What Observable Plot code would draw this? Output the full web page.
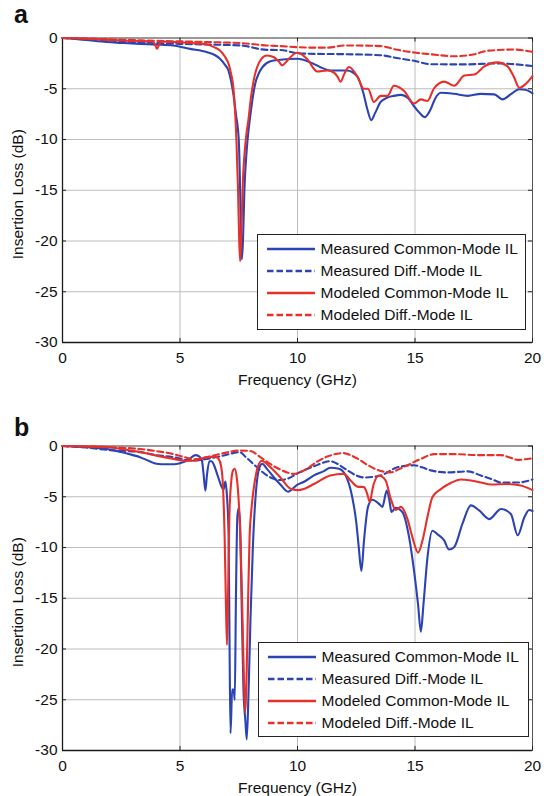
<!DOCTYPE html>
<html>
<head>
<meta charset="utf-8">
<script src="https://cdn.jsdelivr.net/npm/d3@7"></script>
<script src="https://cdn.jsdelivr.net/npm/@observablehq/plot@0.6"></script>
<style>
  html, body { margin: 0; padding: 0; background: #fff; }
  #chart { position: relative; width: 544px; height: 796px; font-family: "Liberation Sans", Arial, sans-serif; color: #111; }
  .panel { position: absolute; left: 0; }
  .tag { position: absolute; left: 14px; font-weight: bold; font-size: 25px; line-height: 25px; }
  .legend { position: absolute; border: 1.5px solid #222; background: #fff; box-sizing: border-box; }
  .row { position: absolute; left: 0; height: 22px; display: flex; align-items: center; font-size: 15.5px; white-space: nowrap; }
  .row svg { margin-left: 8.5px; margin-right: 6px; }
</style>
</head>
<body>
<div id="chart"></div>
<script>
// Axis ticks
const xTicks = [0, 5, 10, 15, 20];
const yTicks = [0, -5, -10, -15, -20, -25, -30];
const seriesNames = ["Measured Common-Mode IL", "Measured Diff.-Mode IL", "Modeled Common-Mode IL", "Modeled Diff.-Mode IL"];

// Panel a: [frequency GHz, insertion loss dB]
const aMeasCM = [[0,0],[0.45,-0.08],[1,-0.2],[1.88,-0.4],[2.5,-0.48],[3.3,-0.58],[4.0,-0.65],[4.7,-0.74],[5.44,-1.07],[6.15,-1.4],[6.5,-1.7],[6.7,-2.05],[6.9,-2.6],[7.06,-3.2],[7.17,-4.2],[7.27,-5.5],[7.38,-7.5],[7.5,-10],[7.56,-15],[7.6,-20],[7.63,-21.8],[7.68,-20],[7.74,-15],[7.84,-11],[7.92,-9],[8.0,-7.5],[8.1,-5.8],[8.2,-4.5],[8.35,-3.5],[8.5,-2.9],[8.85,-2.3],[9.27,-2.15],[9.99,-2.05],[10.55,-2.4],[11.0,-2.9],[11.4,-3.2],[12.1,-3.2],[12.55,-3.8],[12.8,-5.4],[12.97,-7.0],[13.14,-8.1],[13.3,-7.4],[13.54,-6.3],[13.8,-5.9],[14.1,-5.7],[14.4,-5.6],[14.7,-5.9],[14.95,-6.7],[15.2,-7.4],[15.42,-7.8],[15.67,-7.0],[15.85,-6.0],[16.1,-5.4],[16.66,-5.5],[17.24,-5.7],[17.8,-5.5],[18.37,-5.55],[18.73,-6.05],[19.1,-5.5],[19.43,-5.05],[19.7,-5.1],[20,-5.45]];
const aMeasDM = [[0,0],[1,-0.1],[2,-0.25],[3,-0.38],[4,-0.5],[5,-0.58],[6.15,-0.64],[7.6,-0.74],[8.7,-1.17],[9.27,-1.18],[10,-1.5],[10.7,-1.56],[12.1,-1.6],[13.54,-1.7],[14.3,-2.0],[14.96,-2.25],[15.67,-2.58],[17.1,-2.6],[18.5,-2.5],[20,-2.77]];
const aModCM = [[0,0],[0.5,-0.02],[1,-0.08],[2,-0.18],[3,-0.28],[3.3,-0.3],[3.8,-0.35],[3.93,-0.6],[4.02,-1.07],[4.12,-0.6],[4.25,-0.35],[4.7,-0.4],[5.5,-0.5],[6.15,-0.64],[6.45,-0.9],[6.7,-1.23],[6.9,-1.8],[7.06,-2.5],[7.17,-3.5],[7.27,-4.85],[7.4,-10],[7.47,-15],[7.52,-20],[7.56,-22],[7.61,-19],[7.68,-14],[7.8,-10],[7.91,-8.1],[8.02,-5.84],[8.15,-4.0],[8.28,-2.88],[8.45,-2.1],[8.7,-1.73],[9.0,-1.9],[9.2,-2.3],[9.35,-2.7],[9.5,-2.4],[9.63,-2.05],[9.99,-1.46],[10.4,-2.05],[10.84,-3.3],[11.27,-3.2],[11.55,-3.4],[11.7,-3.8],[11.83,-4.3],[12.0,-3.5],[12.19,-2.85],[12.55,-3.8],[12.82,-5.0],[13.0,-5.0],[13.25,-6.3],[13.54,-5.7],[13.83,-5.7],[14.1,-4.7],[14.53,-5.2],[14.96,-6.45],[15.25,-6.05],[15.53,-6.2],[15.8,-5.0],[16.24,-4.3],[16.67,-4.7],[17.1,-3.7],[17.52,-3.6],[17.95,-2.8],[18.5,-2.4],[18.94,-2.8],[19.2,-3.8],[19.44,-4.9],[19.72,-4.5],[20,-3.75]];
const aModDM = [[0,0],[1,-0.05],[2,-0.12],[3,-0.2],[4,-0.28],[5,-0.33],[6.15,-0.4],[7.6,-0.5],[8.7,-0.74],[9.27,-0.8],[10,-0.9],[10.7,-0.95],[11.27,-0.95],[12,-0.74],[12.8,-0.75],[13.54,-0.8],[14.2,-1.14],[14.96,-1.43],[15.67,-1.6],[16.67,-1.8],[17.52,-1.6],[18.1,-1.25],[19.2,-1.14],[20,-1.37]];

// Panel b: [frequency GHz, insertion loss dB]
const bMeasCM = [[0,0],[0.5,-0.05],[1,-0.1],[1.5,-0.2],[1.9,-0.3],[2.5,-0.6],[3,-0.9],[3.3,-1.1],[3.7,-1.5],[4.0,-1.75],[4.4,-1.8],[4.75,-1.8],[5.0,-1.7],[5.3,-1.45],[5.5,-1.1],[5.65,-0.9],[5.8,-1.0],[5.93,-1.4],[6.0,-2.7],[6.08,-4.4],[6.15,-2.8],[6.25,-1.5],[6.35,-1.5],[6.45,-1.9],[6.6,-2.9],[6.75,-3.9],[6.85,-4.3],[6.93,-3.5],[7.0,-5],[7.07,-9],[7.11,-20],[7.15,-28.3],[7.22,-24],[7.28,-24],[7.33,-25],[7.38,-15],[7.44,-7],[7.5,-6.1],[7.56,-8],[7.62,-15],[7.7,-24],[7.78,-27],[7.84,-28.9],[7.92,-24],[8.0,-17],[8.1,-10],[8.2,-5.5],[8.3,-3.0],[8.4,-2.0],[8.5,-1.75],[8.7,-2.25],[9.0,-3.1],[9.27,-3.8],[9.6,-4.5],[10.0,-3.8],[10.3,-3.5],[10.7,-2.9],[11.1,-2.5],[11.4,-2.15],[11.76,-2.25],[12.05,-2.9],[12.33,-5.05],[12.5,-7.5],[12.6,-9.8],[12.72,-12.3],[12.83,-9.3],[13.0,-6.0],[13.18,-5.3],[13.47,-5.7],[13.61,-6.0],[13.8,-4.4],[13.9,-5.2],[14.0,-6.5],[14.18,-6.1],[14.46,-6.5],[14.75,-9.0],[14.96,-12.3],[15.13,-15.6],[15.25,-18.3],[15.36,-15.6],[15.53,-11],[15.74,-8.35],[15.96,-8.7],[16.24,-9.3],[16.45,-10.2],[16.67,-9.95],[17.02,-7.65],[17.38,-5.85],[17.73,-6.35],[18.16,-7.2],[18.66,-6.2],[19.08,-6.7],[19.37,-8.8],[19.65,-7.05],[19.86,-6.3],[20,-6.4]];
const bMeasDM = [[0,0],[1,-0.15],[2,-0.4],[3.3,-0.6],[4.0,-0.9],[4.73,-1.1],[5.2,-1.35],[5.58,-1.43],[6.15,-1.27],[6.86,-0.94],[7.54,-0.6],[7.8,-1.1],[8.28,-2.1],[8.7,-2.9],[9.27,-3.35],[9.6,-3.2],[10.0,-2.7],[10.7,-2.0],[11.4,-1.5],[11.8,-1.9],[12.12,-2.4],[12.5,-2.9],[12.83,-3.1],[13.54,-2.9],[14.25,-2.1],[14.96,-1.9],[15.3,-2.1],[15.67,-2.4],[16.38,-2.6],[17.24,-2.5],[17.8,-2.9],[18.3,-3.3],[18.66,-3.6],[19.37,-3.6],[20,-3.3]];
const bModCM = [[0,0],[0.5,-0.02],[1,-0.05],[1.9,-0.1],[2.5,-0.3],[3.3,-0.6],[4.0,-0.95],[4.73,-1.27],[5.2,-1.45],[5.58,-1.45],[5.9,-1.25],[6.15,-1.1],[6.5,-1.05],[6.65,-1.3],[6.75,-2.0],[6.83,-4],[6.9,-9],[6.95,-15],[7.0,-19.6],[7.05,-14],[7.1,-7],[7.18,-3.5],[7.26,-2.4],[7.33,-2.25],[7.42,-3.2],[7.5,-5.5],[7.57,-9],[7.64,-15],[7.7,-21],[7.77,-26.2],[7.84,-22],[7.9,-15],[7.96,-9],[8.03,-6.5],[8.12,-4.5],[8.25,-2.6],[8.4,-1.6],[8.49,-1.45],[8.6,-1.6],[8.85,-2.1],[9.27,-3.1],[9.7,-4.2],[10.0,-4.35],[10.3,-4.2],[10.7,-3.75],[11.4,-2.9],[11.97,-2.75],[12.26,-3.4],[12.55,-4.0],[12.83,-4.05],[12.95,-4.6],[13.08,-5.5],[13.18,-4.4],[13.25,-3.7],[13.47,-2.9],[13.75,-3.4],[13.97,-5.2],[14.18,-6.3],[14.4,-6.0],[14.68,-7.2],[14.89,-9.0],[15.13,-10.5],[15.32,-9.3],[15.53,-7.0],[15.74,-5.05],[16.1,-4.25],[16.52,-3.65],[16.95,-3.3],[17.38,-3.4],[17.8,-3.6],[18.23,-3.8],[18.94,-3.75],[19.5,-3.9],[20,-4.35]];
const bModDM = [[0,0],[1,-0.05],[2,-0.12],[3.3,-0.3],[4.0,-0.5],[4.73,-0.8],[5.2,-1.1],[5.58,-1.3],[6.15,-1.1],[6.86,-0.7],[7.54,-0.45],[8.0,-0.5],[8.42,-1.1],[9.0,-2.0],[9.56,-2.6],[9.84,-2.75],[10.1,-2.6],[10.4,-2.25],[10.8,-1.6],[11.27,-1.04],[11.97,-0.7],[12.3,-0.95],[12.69,-1.43],[13.0,-1.9],[13.4,-2.35],[13.97,-2.6],[14.3,-2.3],[14.68,-1.9],[15.25,-1.27],[15.81,-0.8],[16.67,-0.8],[17.8,-0.9],[18.66,-0.9],[19.0,-1.1],[19.37,-1.37],[19.7,-1.3],[20,-1.2]];

// Line styles, one per series (same order as seriesNames)
const BLUE = "#2c44b3", RED = "#e8302b";
const styles = [
  {stroke: BLUE, dash: null},
  {stroke: BLUE, dash: "6,3.5"},
  {stroke: RED, dash: null},
  {stroke: RED, dash: "6,3.5"}
];

const FONT = '"Liberation Sans", Arial, sans-serif';

function panel(series, {height, marginBottom}) {
  const lines = series.map((pts, i) => Plot.line(
    pts.map(([f, il]) => ({f, il})),
    {x: "f", y: "il", stroke: styles[i].stroke, strokeWidth: 2.1,
     strokeDasharray: styles[i].dash ?? undefined, curve: "monotone-x"}
  ));
  return Plot.plot({
    width: 544,
    height,
    marginLeft: 62,
    marginRight: 12,
    marginTop: 37.5,
    marginBottom,
    style: {fontFamily: FONT, fontSize: "15.5px", color: "#111", background: "transparent", overflow: "visible"},
    x: {domain: [0, 20]},
    y: {domain: [-30, 0]},
    marks: [
      Plot.gridX(xTicks, {stroke: "#bdbdbd", strokeOpacity: 1, strokeWidth: 1}),
      Plot.gridY(yTicks, {stroke: "#bdbdbd", strokeOpacity: 1, strokeWidth: 1}),
      Plot.frame({stroke: "#555", strokeWidth: 1}),
      // inward tick stubs on all four sides
      Plot.ruleX(xTicks, {y1: -30, y2: -29.6, stroke: "#222"}),
      Plot.ruleX(xTicks, {y1: 0, y2: -0.4, stroke: "#222"}),
      Plot.ruleY(yTicks, {x1: 0, x2: 0.17, stroke: "#222"}),
      Plot.ruleY(yTicks, {x1: 20, x2: 19.83, stroke: "#222"}),
      Plot.ruleX([0], {stroke: "#1a1a1a", strokeWidth: 1.3}),
      Plot.ruleY([-30], {stroke: "#1a1a1a", strokeWidth: 1.3}),
      Plot.axisX(xTicks, {tickSize: 0, tickPadding: 9, label: null, tickFormat: d => String(d)}),
      Plot.axisY(yTicks, {tickSize: 0, tickPadding: 5, label: null, tickFormat: d => String(d)}),
      Plot.text(["Frequency (GHz)"], {frameAnchor: "bottom", dy: 37.5, lineAnchor: "middle", text: d => d, fontSize: 15.5}),
      Plot.text(["Insertion Loss (dB)"], {frameAnchor: "left", dx: -44, dy: 4, rotate: -90, lineAnchor: "middle", textAnchor: "middle", text: d => d, fontSize: 15.5}),
      ...lines
    ]
  });
}

function legend(left, top, width, height) {
  const box = document.createElement("div");
  box.className = "legend";
  Object.assign(box.style, {left: left + "px", top: top + "px", width: width + "px", height: height + "px"});
  seriesNames.forEach((name, i) => {
    const row = document.createElement("div");
    row.className = "row";
    row.style.top = (2.5 + i * 22.3) + "px";
    const ns = "http://www.w3.org/2000/svg";
    const svg = document.createElementNS(ns, "svg");
    svg.setAttribute("width", 48); svg.setAttribute("height", 4);
    const ln = document.createElementNS(ns, "line");
    ln.setAttribute("x1", 0); ln.setAttribute("x2", 48);
    ln.setAttribute("y1", 2); ln.setAttribute("y2", 2);
    ln.setAttribute("stroke", styles[i].stroke);
    ln.setAttribute("stroke-width", 2.4);
    if (styles[i].dash) ln.setAttribute("stroke-dasharray", "6.5,3");
    svg.appendChild(ln);
    const label = document.createElement("span");
    label.textContent = name;
    row.appendChild(svg); row.appendChild(label);
    box.appendChild(row);
  });
  return box;
}

const chart = document.getElementById("chart");

const pa = panel([aMeasCM, aMeasDM, aModCM, aModDM], {height: 400, marginBottom: 58});
pa.classList.add("panel"); pa.style.top = "0px";
chart.appendChild(pa);

const pb = panel([bMeasCM, bMeasDM, bModCM, bModDM], {height: 388, marginBottom: 46});
pb.classList.add("panel"); pb.style.top = "408px";
chart.appendChild(pb);

chart.appendChild(legend(257, 234, 269, 96));
chart.appendChild(legend(258, 642, 271, 95));

for (const [t, top] of [["a", 1.8], ["b", 414.8]]) {
  const d = document.createElement("div");
  d.className = "tag"; d.textContent = t; d.style.top = top + "px";
  chart.appendChild(d);
}
</script>
</body>
</html>
